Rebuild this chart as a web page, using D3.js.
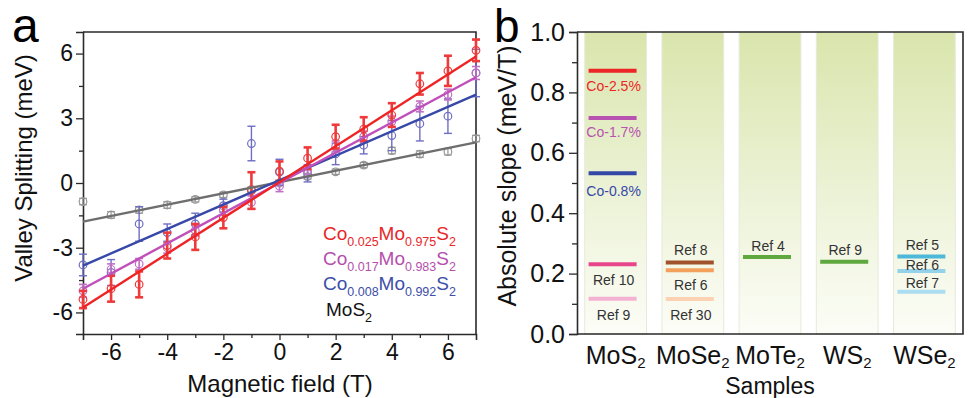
<!DOCTYPE html>
<html><head><meta charset="utf-8">
<script src="https://cdn.jsdelivr.net/npm/d3@7"></script>
<style>
html,body{margin:0;padding:0;background:#fff;}
svg{display:block;font-family:"Liberation Sans",Arial,sans-serif;}
</style></head>
<body>
<svg id="chart" width="970" height="398"></svg>
<script>
// ---------- Panel a data ----------
const fieldT = [-7,-6,-5,-4,-3,-2,-1,0,1,2,3,4,5,6,7];
const co025 = [-5.4,-4.9,-4.7,-2.9,-2.5,-1.6,-0.35,0.55,1.15,2.15,2.5,3.15,4.6,5.2,6.15];
const co025Err = [0.4,0.6,0.6,0.6,0.6,0.5,0.85,0.45,0.5,0.55,0.55,0.55,0.5,0.7,0.5];
const co017 = [-5.0,-4.0,-3.75,-3.0,-2.2,-1.25,-0.9,-0.15,0.55,1.7,2.15,2.85,3.55,4.1,5.1];
const co017Err = [0.3,0.25,0.25,0.25,0.25,0.25,0.3,0.25,0.25,0.25,0.25,0.25,0.25,0.25,0.3];
const co008 = [-3.8,-4.15,-1.9,-2.3,-1.9,-1.05,1.83,0.5,0.45,1.35,1.75,2.2,2.75,3.1,5.1];
const co008Err = [0.5,0.6,0.8,0.4,0.5,0.3,0.8,0.6,0.4,0.5,0.4,0.7,0.8,0.8,1.1];
const mos2 = [-0.86,-1.48,-1.25,-1.02,-0.76,-0.55,-0.3,0.0,0.3,0.52,0.83,1.5,1.34,1.45,2.06];
const mos2Err = [0.15,0.15,0.15,0.15,0.12,0.12,0.12,0.12,0.12,0.12,0.12,0.15,0.15,0.15,0.15];
// linear fit end points (at field -7 T and +7 T)
const fitX = [-7, 7];
const co025Fit = [-5.77, 5.86];
const co017Fit = [-4.9, 4.9];
const co008Fit = [-3.83, 4.1];
const mos2Fit = [-1.79, 1.88];
const yTicksA = [-6,-3,0,3,6];
const xTicksA = [-6,-4,-2,0,2,4,6];

// ---------- Panel b data ----------
const samples = ["MoS2","MoSe2","MoTe2","WS2","WSe2"];
const segSample = ["MoS2","MoS2","MoS2","MoS2","MoS2","MoSe2","MoSe2","MoSe2","MoTe2","WS2","WSe2","WSe2","WSe2"];
const segLabel = ["Co-2.5%","Co-1.7%","Co-0.8%","Ref 10","Ref 9","Ref 8","Ref 6","Ref 30","Ref 4","Ref 9","Ref 5","Ref 6","Ref 7"];
const segValue = [0.872,0.715,0.532,0.231,0.117,0.237,0.211,0.116,0.255,0.239,0.257,0.209,0.14];
const yTicksB = [0,0.2,0.4,0.6,0.8,1.0];

// ---------- styles ----------
const seriesA = [
  {v:co025,e:co025Err,f:co025Fit,line:"#ee2424",mark:"#ee3a3a",bw:2.6},
  {v:co017,e:co017Err,f:co017Fit,line:"#c04fba",mark:"#c070c4",bw:1.6},
  {v:co008,e:co008Err,f:co008Fit,line:"#3848a8",mark:"#6e6ec4",bw:1.4},
  {v:mos2,e:mos2Err,f:mos2Fit,line:"#6e6e6e",mark:"#959595",bw:1.2}
];
const segColor = ["#ec2626","#b852b0","#3448a8","#e8468c","#f4b2d2","#a0522d","#f2a05c","#fcd2b2","#5ea83e","#5ea83e","#4eb8d8","#94d2ea","#acdcf0"];
const labelColor = ["#ec2626","#b852b0","#3448a8","#333","#333","#333","#333","#333","#333","#333","#333","#333","#333"];
const labelDy = [15,14,18,16,16,-12,15,16,-11,-12,-11,-6,-9];

const svg = d3.select("#chart");
const frame = "#2a2a2a";
const fmtHyphen = d => String(d);

// ================= Panel a =================
const xA = d3.scaleLinear().domain([-7,7]).range([83,476]);
const yA = d3.scaleLinear().domain([-7,7]).range([334,32]);
const gA = svg.append("g");

const axL = gA.append("g").attr("transform","translate(83,0)")
  .call(d3.axisLeft(yA).tickValues(yTicksA).tickSize(7).tickPadding(3).tickFormat(fmtHyphen));
const axB = gA.append("g").attr("transform","translate(0,334)")
  .call(d3.axisBottom(xA).tickValues(xTicksA).tickSize(6).tickPadding(4).tickFormat(fmtHyphen));
gA.append("g").attr("transform","translate(83,0)")
  .call(d3.axisLeft(yA).tickValues([-4.5,-1.5,1.5,4.5]).tickSize(4).tickFormat(""))
  .call(g=>g.select(".domain").remove());
gA.append("g").attr("transform","translate(0,334)")
  .call(d3.axisBottom(xA).tickValues([-5,-3,-1,1,3,5]).tickSize(4).tickFormat(""))
  .call(g=>g.select(".domain").remove());
[axL,axB].forEach(a=>{
  a.selectAll("text").attr("font-size",23).attr("fill","#111").attr("font-family","Liberation Sans, Arial, sans-serif");
});
gA.selectAll(".tick line").attr("stroke",frame).attr("stroke-width",1.3);
gA.selectAll(".domain").attr("stroke",frame).attr("stroke-width",1.6);
gA.append("path").attr("d",`M83,32H476V334`).attr("fill","none").attr("stroke",frame).attr("stroke-width",1.6);

const lineA = d3.line().x((d,i)=>xA(fitX[i])).y(d=>yA(d));
seriesA.slice().reverse().forEach(s=>{
  const g = gA.append("g");
  fieldT.forEach((x,i)=>{
    const cx = xA(x), y0 = yA(s.v[i]-s.e[i]), y1 = yA(s.v[i]+s.e[i]);
    g.append("line").attr("x1",cx).attr("x2",cx).attr("y1",y0).attr("y2",y1).attr("stroke",s.mark).attr("stroke-width",s.bw);
    [y0,y1].forEach(yy=>g.append("line").attr("x1",cx-4).attr("x2",cx+4).attr("y1",yy).attr("y2",yy).attr("stroke",s.mark).attr("stroke-width",s.bw));
  });
  g.selectAll("circle").data(s.v).join("circle")
    .attr("cx",(d,i)=>xA(fieldT[i])).attr("cy",d=>yA(d)).attr("r",3.8)
    .attr("fill","none").attr("stroke",s.mark).attr("stroke-width",1.2);
});
seriesA.slice().reverse().forEach(s=>{
  gA.append("path").datum(s.f).attr("d",lineA).attr("fill","none").attr("stroke",s.line).attr("stroke-width",2.4);
});

// legend
const legA = [
  {c:"#e8262a",parts:[["Co",0],["0.025",1],["Mo",0],["0.975",1],["S",0],["2",1]],y:240},
  {c:"#b54fad",parts:[["Co",0],["0.017",1],["Mo",0],["0.983",1],["S",0],["2",1]],y:265},
  {c:"#3c4ea8",parts:[["Co",0],["0.008",1],["Mo",0],["0.992",1],["S",0],["2",1]],y:290},
  {c:"#111",parts:[["MoS",0],["2",1]],y:316}
];
legA.forEach((r,ri)=>{
  const t = gA.append("text").attr("x",ri===3?326:323).attr("y",r.y).attr("fill",r.c).attr("font-size",19);
  let down=false;
  r.parts.forEach(p=>{
    const ts = t.append("tspan").text(p[0]);
    if(p[1]===1){ ts.attr("font-size",12.5).attr("dy",down?0:6); down=true; }
    else { ts.attr("dy",down?-6:0); down=false; }
  });
});

gA.append("text").attr("x",280).attr("y",392).attr("text-anchor","middle").attr("font-size",24).attr("fill","#111").text("Magnetic field (T)");
gA.append("text").attr("transform","translate(32,168) rotate(-90)").attr("text-anchor","middle").attr("font-size",24).attr("fill","#111").text("Valley Splitting (meV)");
svg.append("text").attr("x",12).attr("y",42).attr("font-size",48).attr("fill","#000").text("a");

// ================= Panel b =================
const xB = d3.scaleBand().domain(samples).range([577,963]).paddingInner(0.2).paddingOuter(0.1);
const yB = d3.scaleLinear().domain([0,1]).range([334,32]);
const gB = svg.append("g");
const defs = svg.append("defs");
const grad = defs.append("linearGradient").attr("id","colGrad").attr("x1",0).attr("x2",0).attr("y1",0).attr("y2",1);
grad.append("stop").attr("offset","0%").attr("stop-color","#d9e5ac");
grad.append("stop").attr("offset","45%").attr("stop-color","#e9f0d0");
grad.append("stop").attr("offset","100%").attr("stop-color","#fcfdf7");

gB.selectAll("rect.col").data(samples).join("rect").attr("class","col")
  .attr("x",d=>xB(d)).attr("y",yB(1)).attr("width",xB.bandwidth()).attr("height",yB(0)-yB(1))
  .attr("fill","url(#colGrad)").attr("stroke","#e6eadb").attr("stroke-width",1);

const segCenter = i => xB(segSample[i]) + xB.bandwidth()/2 - 3;
gB.selectAll("line.seg").data(segValue).join("line").attr("class","seg")
  .attr("x1",(d,i)=>segCenter(i)-24).attr("x2",(d,i)=>segCenter(i)+24)
  .attr("y1",d=>yB(d)).attr("y2",d=>yB(d))
  .attr("stroke",(d,i)=>segColor[i]).attr("stroke-width",4);
gB.selectAll("text.seglab").data(segLabel).join("text").attr("class","seglab")
  .attr("x",(d,i)=>segCenter(i)+1).attr("y",(d,i)=>yB(segValue[i])+labelDy[i]+5)
  .attr("text-anchor","middle").attr("font-size",14).attr("fill",(d,i)=>labelColor[i]).text(d=>d);

const axLB = gB.append("g").attr("transform","translate(577,0)")
  .call(d3.axisLeft(yB).tickValues(yTicksB).tickSize(8).tickPadding(4).tickFormat(d3.format(".1f")));
gB.append("g").attr("transform","translate(577,0)")
  .call(d3.axisLeft(yB).tickValues([0.1,0.3,0.5,0.7,0.9]).tickSize(5).tickFormat(""))
  .call(g=>g.select(".domain").remove());
axLB.selectAll("text").attr("font-size",25).attr("fill","#111").attr("font-family","Liberation Sans, Arial, sans-serif");
gB.selectAll(".tick line").attr("stroke",frame).attr("stroke-width",1.3);
gB.selectAll(".domain").attr("stroke",frame).attr("stroke-width",1.6);
gB.append("path").attr("d","M577,32H963V334H577").attr("fill","none").attr("stroke",frame).attr("stroke-width",1.6);

const subParts = {"MoS2":["MoS","2"],"MoSe2":["MoSe","2"],"MoTe2":["MoTe","2"],"WS2":["WS","2"],"WSe2":["WSe","2"]};
samples.forEach(s=>{
  const t = gB.append("text").attr("x",xB(s)+xB.bandwidth()/2).attr("y",364).attr("text-anchor","middle").attr("font-size",25).attr("fill","#111");
  t.append("tspan").text(subParts[s][0]);
  t.append("tspan").attr("font-size",15).attr("dy",4).text(subParts[s][1]);
});
gB.append("text").attr("x",770).attr("y",394).attr("text-anchor","middle").attr("font-size",23).attr("fill","#111").text("Samples");
gB.append("text").attr("transform","translate(516,176) rotate(-90)").attr("text-anchor","middle").attr("font-size",25).attr("fill","#111").text("Absolute slope (meV/T)");
svg.append("text").attr("x",494).attr("y",42).attr("font-size",46).attr("fill","#000").text("b");
</script>
</body></html>
